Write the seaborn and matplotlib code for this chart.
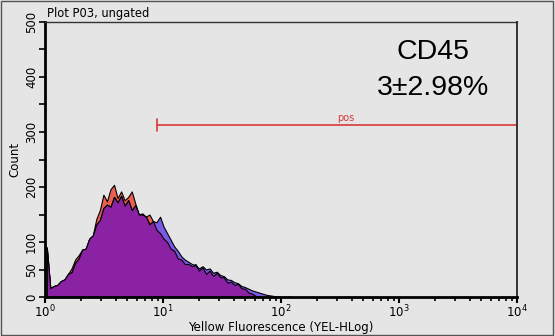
import numpy as np
import pandas as pd
import matplotlib
matplotlib.use("Agg")
import matplotlib.pyplot as plt
from matplotlib.patches import Rectangle
import seaborn as sns

# ---------------- data (histogram counts, log10 bins of 0.03 decade from 10^0) -------------
bin_width = 0.03
purple_counts = [90, 16, 20, 22, 29, 32, 42, 45, 62, 70,
                 86, 88, 106, 112, 132, 140, 162, 168, 164, 182,
                 172, 184, 166, 176, 158, 167, 150, 150, 146, 132,
                 138, 122, 116, 106, 100, 88, 84, 70, 68, 60,
                 60, 56, 58, 48, 54, 42, 48, 38, 44, 36,
                 36, 26, 28, 22, 24, 16, 15, 8, 6, 2,
                 1, 0, 0, 0, 0, 0, 0, 0, 0, 0]
red_counts = [90, 16, 20, 22, 29, 32, 42, 52, 68, 76,
              86, 88, 106, 112, 142, 158, 186, 174, 196, 204,
              180, 192, 176, 182, 192, 170, 150, 152, 146, 150,
              138, 122, 116, 106, 100, 88, 84, 70, 68, 60,
              60, 56, 60, 48, 54, 42, 48, 38, 44, 36,
              36, 26, 28, 22, 24, 16, 15, 8, 6, 2,
              1, 0, 0, 0, 0, 0, 0, 0, 0, 0]
blue_counts = [90, 16, 20, 22, 29, 32, 42, 45, 62, 70,
               86, 88, 106, 112, 132, 140, 162, 168, 164, 182,
               172, 184, 166, 176, 158, 167, 150, 150, 146, 132,
               138, 136, 146, 128, 116, 104, 92, 84, 74, 68,
               64, 60, 58, 52, 56, 50, 52, 44, 46, 40,
               38, 32, 31, 27, 25, 20, 18, 15, 12, 10,
               8, 6, 4, 3, 2, 1, 0, 0, 0, 1]

x_decades = [0, 1, 2, 3, 4]
xtick_labels = ["$10^{0}$", "$10^{1}$", "$10^{2}$", "$10^{3}$", "$10^{4}$"]
ytick_values = [0, 50, 100, 150, 200, 250, 300, 350, 400, 450, 500]
ytick_labels = ["0", "50", "100", "", "200", "", "300", "", "400", "", "500"]

gate_name = "pos"
gate_start = 0.95     # log10 of gate start (~8.9)
gate_end = 4.0
gate_level = 313

title_text = "Plot P03, ungated"
marker_name = "CD45"
marker_value = "3\u00b12.98%"
x_label = "Yellow Fluorescence (YEL-HLog)"
y_label = "Count"

# ---------------- style ----------------
sns.set_style("white")
plt.rcParams["font.family"] = ["DejaVu Sans"]
for key in ["text.color", "axes.labelcolor", "xtick.color", "ytick.color"]:
    plt.rcParams[key] = "black"
bg = "#e5e5e5"

fig = plt.figure(figsize=(5.55, 3.36), dpi=100, facecolor=bg)
ax = fig.add_axes([45 / 555, 1 - 297 / 336, 472 / 555, 275 / 336])
ax.set_facecolor(bg)

n = len(purple_counts)
centers = (np.arange(n) + 0.5) * bin_width

for counts, color in [(red_counts, "#e8604f"), (blue_counts, "#7a5ae4"), (purple_counts, "#8b22a3")]:
    df = pd.DataFrame({"decade": centers, "count": np.asarray(counts, dtype=float)})
    sns.histplot(data=df, x="decade", weights="count", bins=n, binrange=(0, n * bin_width),
                 element="poly", fill=True,
                 color=color, alpha=1, edgecolor="black", linewidth=0.8, ax=ax)

# gate
gate_color = "#d83a3a"
ax.plot([gate_start, gate_end], [gate_level, gate_level], color=gate_color, lw=1.2, clip_on=False)
ax.plot([gate_start, gate_start], [gate_level - 11, gate_level + 11], color=gate_color, lw=1.2)
ax.text(2.55, gate_level + 3, gate_name, color=gate_color, fontsize=7, ha="center", va="bottom")

ax.set_xlim(0, 4)
ax.set_ylim(0, 500)
ax.set_xticks(x_decades)
ax.set_xticklabels(xtick_labels, fontsize=8.5)
ax.set_xticks([d + np.log10(k) for d in range(4) for k in range(2, 10)], minor=True)
ax.set_yticks(ytick_values)
ax.set_yticklabels(ytick_labels, fontsize=8.5, rotation=90, va="center")
ax.tick_params(axis="x", which="major", direction="out", length=4, width=1.5, pad=1, bottom=True)
ax.tick_params(axis="x", which="minor", direction="out", length=3, width=1.2, bottom=True)
ax.tick_params(axis="y", which="major", direction="out", length=4, width=1.2, pad=1, left=True)
ax.set_xlabel(x_label, fontsize=8.5, labelpad=0)
ax.set_ylabel(y_label, fontsize=8.5, labelpad=3)

for side, lw in [("left", 2.0), ("bottom", 2.0), ("right", 1.4), ("top", 1.0)]:
    ax.spines[side].set_visible(True)
    ax.spines[side].set_color("black" if side in ("left", "bottom") else "#333333")
    ax.spines[side].set_linewidth(lw)

fig.text(47 / 555, 1 - 14 / 336, title_text, fontsize=8.3, ha="left", va="center")
fig.text(433 / 555, 1 - 52 / 336, marker_name, fontsize=20.5, ha="center", va="center",
         family=["Liberation Sans"])
fig.text(433 / 555, 1 - 88 / 336, marker_value, fontsize=20.5, ha="center", va="center",
         family=["Liberation Sans"])

# outer frame
fig.patches.append(Rectangle((0.001, 0.003), 0.995, 0.994, transform=fig.transFigure,
                             fill=False, edgecolor="#555555", lw=1.0))

fig.savefig("out.png", dpi=100, facecolor=bg)
